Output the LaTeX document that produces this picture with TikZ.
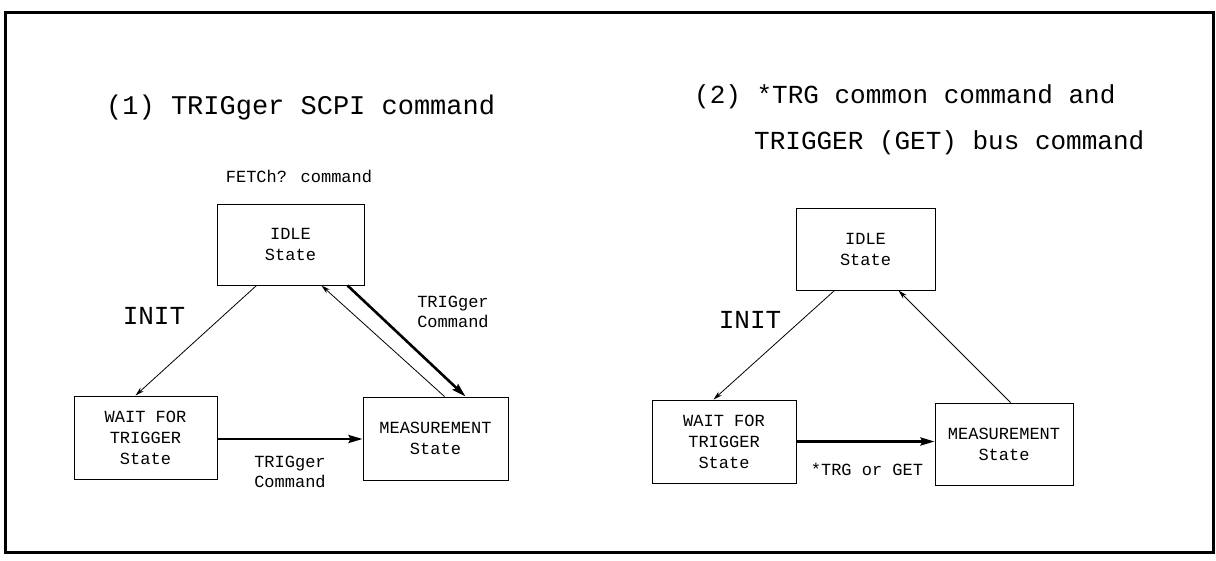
\documentclass[tikz,border=0pt]{standalone}
\usepackage{fontspec}
\newfontfamily\pf{Liberation Mono}
\usetikzlibrary{arrows.meta}
\tikzset{
  statebox/.style={draw, line width=1pt, rectangle, inner sep=0pt, align=center,
    font=\pf\fontsize{17}{21}\selectfont},
  lbl/.style={align=center, inner sep=0pt, font=\pf\fontsize{17}{20}\selectfont},
  bigl/.style={anchor=west, inner sep=0pt, font=\pf\fontsize{26}{30}\selectfont},
  thinarr/.style={line width=0.8pt, -{Stealth[length=9pt,width=5pt]}},
  thickarr/.style={line width=2.6pt, -{Stealth[length=14pt,width=8pt,inset=2pt]}},
}
\begin{document}
\begin{tikzpicture}[x=1pt,y=-1pt]
\useasboundingbox (0,0) rectangle (1216,560);
\draw[line width=3pt] (5,12) rectangle (1213,552);

% ---------- left diagram ----------
\node[bigl, font=\pf\fontsize{27}{30}\selectfont] (t1) at (106,108) {(1) TRIGger SCPI command};
\node[lbl] (fetch) at (299,176) {FETCh? command};
\node[statebox, minimum width=147pt, minimum height=81pt] (idle) at (290.5,244.5) {IDLE\\State};
\node[statebox, minimum width=143pt, minimum height=83pt] (wait) at (145.5,437.5) {WAIT FOR\\TRIGGER\\State};
\node[statebox, minimum width=145pt, minimum height=83pt] (meas) at (435.5,438.5) {MEASUREMENT\\State};
\node[bigl, anchor=center] (init1) at (154,316) {INIT};
\node[lbl] (trg1) at (453,312) {TRIGger\\Command};
\node[lbl] (trg2) at (290,472) {TRIGger\\Command};

\draw[thinarr] ([xshift=40pt]idle.south west) -- ([xshift=62pt]wait.north west);
\draw[thinarr] ([xshift=82pt]meas.north west) -- ([xshift=105pt]idle.south west);
\draw[thickarr] ([xshift=131pt]idle.south west) -- ([xshift=103pt]meas.north west);
\draw[thickarr] ([yshift=-1.5pt]wait.east) -- ([yshift=-1.5pt]wait.east -| meas.west);

% ---------- right diagram ----------
\node[bigl] (t2) at (694,97) {(2) *TRG common command and};
\node[bigl] (t3) at (754,143) {TRIGGER (GET) bus command};
\node[statebox, minimum width=139pt, minimum height=82pt] (idle2) at (865.5,249) {IDLE\\State};
\node[statebox, minimum width=144pt, minimum height=83pt] (wait2) at (724,441.5) {WAIT FOR\\TRIGGER\\State};
\node[statebox, minimum width=138pt, minimum height=82pt] (meas2) at (1004,444) {MEASUREMENT\\State};
\node[bigl, anchor=center] (init2) at (750,320) {INIT};
\node[lbl] (trg3) at (867,469) {*TRG or GET};

\draw[thinarr] ([xshift=39pt]idle2.south west) -- ([xshift=62pt]wait2.north west);
\draw[thinarr] ([xshift=76pt]meas2.north west) -- ([xshift=103pt]idle2.south west);
\draw[thickarr] (wait2.east) -- (wait2.east -| meas2.west);
\end{tikzpicture}
\end{document}
